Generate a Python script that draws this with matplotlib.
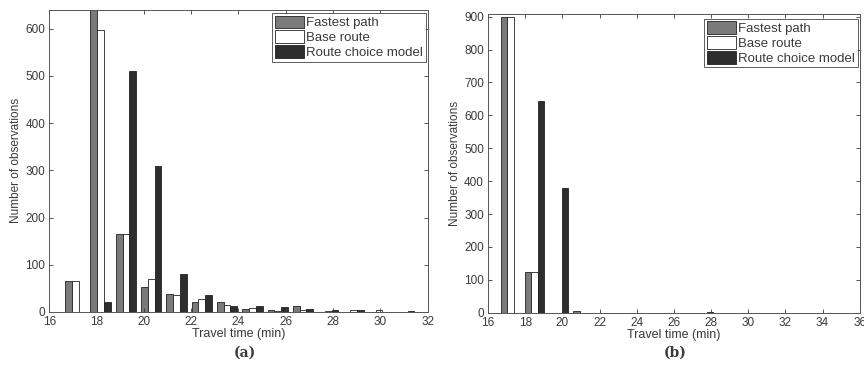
import matplotlib
matplotlib.use("Agg")
import matplotlib.pyplot as plt
import numpy as np

plt.rcParams['font.family'] = ['Liberation Sans', 'DejaVu Sans']

series_names = ["Fastest path", "Base route", "Route choice model"]
series_colors = ["#7a7a7a", "#ffffff", "#2e2e2e"]

# Panel (a)
a_bins = [17.10, 18.17, 19.24, 20.31, 21.38, 22.45, 23.52, 24.59, 25.66, 26.73, 27.80, 28.87, 29.94, 31.01]
a_fastest = [65, 660, 165, 52, 38, 20, 20, 7, 5, 13, 0, 0, 0, 0]
a_base = [65, 597, 165, 70, 35, 28, 15, 8, 3, 5, 3, 5, 4, 0]
a_route = [0, 22, 510, 310, 80, 35, 13, 13, 10, 7, 5, 4, 0, 1]

# Panel (b)
b_bins = [17.20, 18.50, 19.80, 21.10, 22.40, 23.70, 25.00, 26.30, 27.60, 28.90, 30.20, 31.50, 32.80, 34.10, 35.40]
b_fastest = [900, 123, 0, 5, 0, 0, 0, 0, 0, 0, 0, 0, 0, 0, 0]
b_base = [900, 123, 0, 0, 0, 0, 0, 0, 0, 0, 0, 0, 0, 0, 0]
b_route = [0, 645, 378, 0, 0, 0, 0, 0, 3, 0, 0, 0, 0, 0, 0]

fig = plt.figure(figsize=(8.64, 3.79), dpi=100)
text_col = "#3a3a3a"

def panel(rect, bins, vals, xlim, ylim, xticks, yticks, label, label_x, leg_anchor):
    ax = fig.add_axes(rect)
    bins = np.asarray(bins)
    spacing = bins[1] - bins[0]
    w = 0.8 * spacing / 3
    for k, (v, c, n) in enumerate(zip(vals, series_colors, series_names)):
        ax.bar(bins + (k - 1) * w, v, width=w, color=c, edgecolor="#222222",
               linewidth=0.6, label=n)
    ax.set_xlim(*xlim)
    ax.set_ylim(*ylim)
    ax.set_xticks(xticks)
    ax.set_yticks(yticks)
    ax.tick_params(direction="in", top=True, right=True, labelsize=8.5,
                   colors=text_col, length=3, width=0.6, pad=3)
    for s in ax.spines.values():
        s.set_color("#555555")
        s.set_linewidth(0.7)
    ax.set_xlabel("Travel time (min)", fontsize=9, color=text_col, labelpad=0)
    ax.set_ylabel("Number of observations", fontsize=8.5, color=text_col, labelpad=2)
    leg = ax.legend(loc="upper right", bbox_to_anchor=leg_anchor, fontsize=9.5,
                    frameon=True, fancybox=False, edgecolor="#333333",
                    handlelength=2.2, handleheight=1.1, handletextpad=0.2,
                    labelspacing=0.08, borderpad=0.2, borderaxespad=0.0)
    leg.get_frame().set_linewidth(0.7)
    for t in leg.get_texts():
        t.set_color(text_col)
    fig.text(label_x, 0.07, label, ha="center", va="center", fontsize=10,
             fontweight="bold", family=["DejaVu Serif"], color=text_col)
    return ax

panel([0.057, 0.177, 0.438, 0.797], a_bins, [a_fastest, a_base, a_route],
      (16, 32), (0, 640), np.arange(16, 33, 2), np.arange(0, 601, 100),
      "(a)", 0.283, (0.995, 0.99))
panel([0.565, 0.175, 0.43, 0.788], b_bins, [b_fastest, b_base, b_route],
      (16, 36), (0, 908), np.arange(16, 37, 2), np.arange(0, 901, 100),
      "(b)", 0.781, (0.995, 0.985))

fig.savefig("out.png", dpi=100, facecolor="white")
